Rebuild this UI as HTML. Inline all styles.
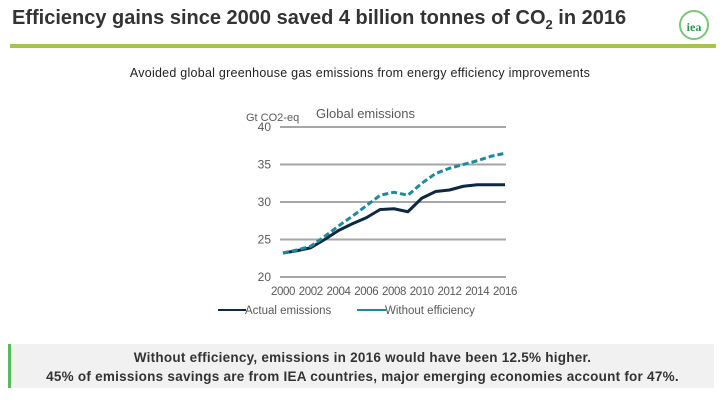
<!DOCTYPE html>
<html><head><meta charset="utf-8"><style>
body{margin:0;width:720px;height:405px;background:#fff;font-family:"Liberation Sans",sans-serif;position:relative;overflow:hidden}
.t{position:absolute;left:12px;top:7px;font-size:20px;font-weight:bold;color:#333;letter-spacing:0px;white-space:nowrap}
.t sub{font-size:13px}
.rule{position:absolute;left:10px;top:44px;width:706px;height:4px;background:#a6c54a}
.logo{position:absolute;left:679px;top:10px;width:26px;height:26px;border:2px solid #7cc47a;border-radius:50%;color:#2f8f4a;font-size:12px;font-weight:bold;text-align:center;line-height:30px;font-family:"Liberation Serif",serif}
.sub{position:absolute;left:0;width:720px;top:66px;text-align:center;font-size:12.5px;letter-spacing:0.25px;color:#222}
.box{position:absolute;left:8px;top:344px;width:706px;height:44px;background:#f1f1f1;border-left:3px solid #5cb85c;box-sizing:border-box;text-align:center;font-size:13.5px;letter-spacing:0.25px;font-weight:bold;color:#333;line-height:19px;padding-top:4px}
</style></head><body>
<div class="t">Efficiency gains since 2000 saved 4 billion tonnes of CO<sub>2</sub> in 2016</div>
<div class="rule"></div>
<div class="logo">iea</div>
<div class="sub">Avoided global greenhouse gas emissions from energy efficiency improvements</div>
<svg id="c" width="720" height="405" style="position:absolute;left:0;top:0"></svg>
<div class="box">Without efficiency, emissions in 2016 would have been 12.5% higher.<br>45% of emissions savings are from IEA countries, major emerging economies account for 47%.</div>
<script>
const years=[2000,2001,2002,2003,2004,2005,2006,2007,2008,2009,2010,2011,2012,2013,2014,2015,2016];
const actual=[23.2,23.5,23.9,25.0,26.2,27.1,27.9,29.0,29.1,28.7,30.5,31.4,31.6,32.1,32.3,32.3,32.3];
const without=[23.2,23.6,24.1,25.4,26.8,28.1,29.5,30.9,31.3,30.9,32.5,33.8,34.5,35.0,35.5,36.1,36.5];
const yTicks=[20,25,30,35,40];
const xTicks=[2000,2002,2004,2006,2008,2010,2012,2014,2016];
const NS="http://www.w3.org/2000/svg",svg=document.getElementById('c');
const X=v=>283+(v-2000)*(505-283)/16, Y=v=>277-(v-20)*(150/20);
function mk(t,a){const e=document.createElementNS(NS,t);for(const k in a)e.setAttribute(k,a[k]);svg.appendChild(e);return e;}
yTicks.forEach(v=>{
 const g=mk('line',{x1:280,x2:506,y1:Y(v),y2:Y(v),stroke:'#a6a6a6','stroke-width':2});
 
 
 const t=mk('text',{x:271,y:Y(v)+4,'text-anchor':'end','font-size':12,fill:'#595959','font-family':'Liberation Sans'});
 t.textContent=v;
 
 
});
xTicks.forEach(v=>{
 const t=mk('text',{x:X(v),y:295,'text-anchor':'middle','font-size':11.5,fill:'#595959','font-family':'Liberation Sans','letter-spacing':'-0.4'});
 t.textContent=v;
 
 
});
let a=mk('text',{x:246,y:121,'font-size':11,fill:'#595959','font-family':'Liberation Sans'});a.textContent='Gt CO2-eq';


let b=mk('text',{x:316,y:118,'font-size':13,fill:'#595959','font-family':'Liberation Sans'});b.textContent='Global emissions';


const pts=arr=>arr.map((v,i)=>X(years[i])+','+Y(v)).join(' ');
const l1=mk('polyline',{points:pts(actual),fill:'none',stroke:'#0e2841','stroke-width':3,'stroke-linejoin':'round'});


const l2=mk('polyline',{points:pts(without),fill:'none',stroke:'#1f8a9a','stroke-width':3,'stroke-dasharray':'6,3'});


const lg1=mk('line',{x1:218,x2:246,y1:310,y2:310,stroke:'#0e2841','stroke-width':2});


let t1=mk('text',{x:245,y:314,'font-size':11.5,fill:'#595959','font-family':'Liberation Sans'});t1.textContent='Actual emissions';


const lg2=mk('line',{x1:357,x2:386,y1:310,y2:310,stroke:'#1f8a9a','stroke-width':2});


let t2=mk('text',{x:385,y:314,'font-size':11.5,fill:'#595959','font-family':'Liberation Sans'});t2.textContent='Without efficiency';


</script>
</body></html>
